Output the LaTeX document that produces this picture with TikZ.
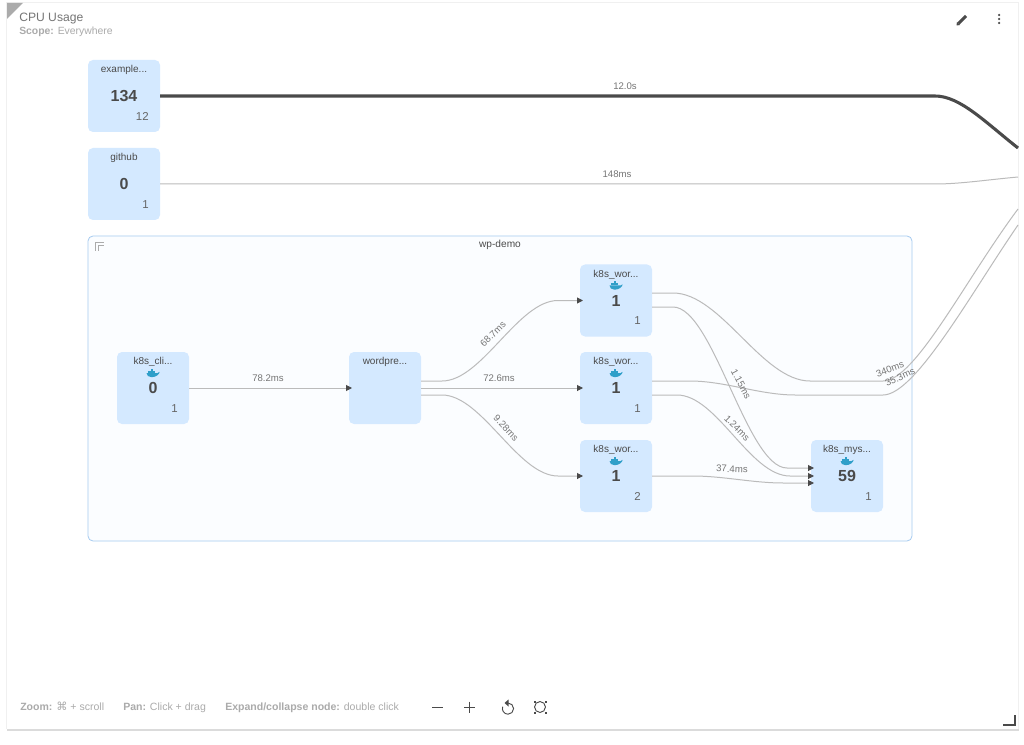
\documentclass[tikz,border=0pt]{standalone}
\usepackage{fontspec}
\setmainfont{Liberation Sans}
\newfontfamily\symfont{DejaVu Sans}
\usetikzlibrary{arrows.meta,calc}
\definecolor{boxblue}{HTML}{D4E9FF}
\definecolor{groupline}{HTML}{A6CBF0}
\definecolor{groupfill}{HTML}{FBFDFF}
\definecolor{edgegray}{HTML}{BBBBBB}
\definecolor{darkedge}{HTML}{4A4A4A}
\definecolor{labelgray}{HTML}{757575}
\definecolor{inktext}{HTML}{4A4A4A}
\definecolor{softgray}{HTML}{ABABAB}
\definecolor{whaleblue}{HTML}{2F9FC9}
\tikzset{
  x=0.75pt,y=-0.75pt,
  hostbox/.style={fill=boxblue,draw=none,rounded corners=3.75pt,minimum width=54pt,minimum height=54pt,outer sep=0pt,inner sep=0pt},
  nametext/.style={font=\fontsize{7.5}{9}\selectfont,text=inktext,inner sep=0pt},
  numtext/.style={font=\fontsize{12}{14}\selectfont\bfseries,text=inktext,inner sep=0pt},
  counttext/.style={font=\fontsize{8.6}{10}\selectfont,text=inktext!85,inner sep=0pt,anchor=east},
  edgelabel/.style={font=\fontsize{7.2}{9}\selectfont,text=labelgray,inner sep=0pt},
  flow/.style={draw=edgegray,line width=0.75pt},
  flowto/.style={flow,-{Triangle[length=4.5pt,width=4.5pt,color=darkedge]}},
  helptext/.style={font=\fontsize{7.9}{10}\selectfont,text=softgray,inner sep=0pt,anchor=base west},
  toolicon/.style={draw=inktext,line width=0.7pt},
  whale/.pic={
    \fill[whaleblue] (-6.5,0) -- (4.6,0) .. controls (5.2,-0.6) and (5.8,-1.2) .. (6.6,-1.2)
      .. controls (6.4,1.2) and (3.5,4.2) .. (-1.5,4.2) .. controls (-4.5,4.2) and (-6.2,2.5) .. (-6.5,0) -- cycle;
    \fill[whaleblue] (-4.6,-2.1) rectangle (1.8,-0.4);
    \fill[whaleblue] (-2.1,-4.2) rectangle (0.2,-2.5);
  }
}
\newcommand{\hostnode}[6]{% id, x, y, name, number, count
  \node[hostbox] (#1) at (#2,#3) {};
  \node[nametext] (#1-name) at ($(#1.center)+(0,-26)$) {#4};
  \node[numtext] (#1-num) at (#1.center) {#5};
  \node[counttext] (#1-count) at ($(#1.center)+(25,20.5)$) {#6};
}
\begin{document}
\begin{tikzpicture}
\useasboundingbox (0,0) rectangle (1024,745);
\fill[white] (0,0) rectangle (1024,745);
% panel
\fill[black!14] (7,4) rectangle (1019,730.5);
\fill[black!6] (6,2) rectangle (1019,729);
\fill[white] (7,3) rectangle (1018,729);
\fill[softgray] (7,3) -- (23,3) -- (7,19) -- cycle;
\node[font=\fontsize{9.1}{11}\selectfont,text=labelgray,inner sep=0pt,anchor=west] (title) at (19,18.5) {CPU Usage};
\node[font=\fontsize{7.8}{10}\selectfont,text=softgray,inner sep=0pt,anchor=west] (scope) at (19,32) {\textbf{Scope:} Everywhere};
% top right icons
\draw[inktext,line width=2.3pt] (958.5,23.5) -- (966,16);
\fill[inktext] (956.5,25.5) -- (957,21.8) -- (960.2,25) -- cycle;
\foreach \yy in {15,19,23} \fill[inktext] (999,\yy) circle (1.25);
% group
\node[draw=groupline,fill=groupfill,line width=0.6pt,rounded corners=3.75pt,minimum width=618pt,minimum height=228.75pt,outer sep=0pt,inner sep=0pt] (group) at (500,388.5) {};
\node[edgelabel,text=inktext,font=\fontsize{7.6}{9}\selectfont] (grouptitle) at (500,245) {wp-demo};
\draw[softgray,line width=0.5pt] (95,251) -- (95,242) -- (104,242);
\draw[softgray,line width=0.5pt] (98,251) -- (98,245) -- (104,245);
% host nodes
\hostnode{ex}{124}{96}{example...}{134}{12}
\hostnode{gh}{124}{184}{github}{0}{1}
\hostnode{cli}{153}{388}{k8s\_cli...}{0}{1}
\node[hostbox] (wp) at (385,388) {};
\node[nametext] (wp-name) at ($(wp.center)+(0,-26)$) {wordpre...};
\hostnode{wa}{616}{300.5}{k8s\_wor...}{1}{1}
\hostnode{wb}{616}{388}{k8s\_wor...}{1}{1}
\hostnode{wc}{616}{476}{k8s\_wor...}{1}{2}
\hostnode{my}{847}{476}{k8s\_mys...}{59}{1}
\foreach \nn in {cli,wa,wb,wc,my} \pic at ($(\nn.center)+(0,-15)$) {whale};
% free ends at the panel edge
\coordinate (offa) at (1018,148);
\coordinate (offb) at (1018,177);
\coordinate (offc) at (1018,209);
\coordinate (offd) at (1018,225);
% connectors
\draw[draw=darkedge,line width=2.3pt] (ex.east) -- (935,96) .. controls (960,96) and (985,122) .. (offa);
\draw[flow] (gh.east) -- (935,184) .. controls (960,184) and (985,180) .. (offb);
\draw[flowto] (cli.east) -- ($(wp.west)+(3,0)$);
\draw[flowto] ($(wp.east)+(0,-7)$) -- (442,381) .. controls (482,381) and (518,300.5) .. (558,300.5) -- ($(wa.west)+(3,0)$);
\draw[flowto] (wp.east) -- ($(wb.west)+(3,0)$);
\draw[flowto] ($(wp.east)+(0,7)$) -- (442,395) .. controls (482,395) and (518,476) .. (558,476) -- ($(wc.west)+(3,0)$);
\draw[flow] ($(wa.east)+(0,-7.5)$) -- (673,293) .. controls (721,293) and (762,381) .. (810,381) -- (883,381) .. controls (915,381) and (965,280) .. (offc);
\draw[flowto] ($(wa.east)+(0,6.5)$) -- (673,307) .. controls (713,307) and (747,468) .. (787,468) -- ($(my.west)+(3,-8)$);
\draw[flow] ($(wb.east)+(0,-7)$) -- (690,381) .. controls (725,381) and (760,395) .. (795,395) -- (883,395) .. controls (915,395) and (970,295) .. (offd);
\draw[flowto] ($(wb.east)+(0,7)$) -- (677,395) .. controls (717,395) and (750,476) .. (790,476) -- ($(my.west)+(3,0)$);
\draw[flowto] (wc.east) -- (693,476) .. controls (723,476) and (753,483) .. (783,483) -- ($(my.west)+(3,7)$);
% edge labels
\node[edgelabel] (l1) at (625,86) {12.0s};
\node[edgelabel] (l2) at (617,174) {148ms};
\node[edgelabel] (l3) at (268,378) {78.2ms};
\node[edgelabel,rotate=45] (l4) at (493,334) {68.7ms};
\node[edgelabel] (l5) at (499,378) {72.6ms};
\node[edgelabel,rotate=-47] (l6) at (506,428) {9.28ms};
\node[edgelabel,rotate=-62] (l7) at (741,384) {1.15ms};
\node[edgelabel,rotate=-45] (l8) at (737,428) {1.24ms};
\node[edgelabel,rotate=-2] (l9) at (732,469) {37.4ms};
\node[edgelabel,rotate=20] (l10) at (890,369) {340ms};
\node[edgelabel,rotate=25] (l11) at (900,377) {35.3ms};
% help bar
\node[helptext] (h1) at (20,710.5) {\textbf{Zoom:} {\symfont\fontsize{8.4}{9}\selectfont ⌘} + scroll};
\node[helptext] (h2) at (123,710.5) {\textbf{Pan:} Click + drag};
\node[helptext] (h3) at (225,710.5) {\textbf{Expand/collapse node:} double click};
\draw[toolicon] (432,707) -- (443,707);
\draw[toolicon] (464,707) -- (474.5,707);
\draw[toolicon] (469.2,701.5) -- (469.2,712.5);
\draw[toolicon] (508,703) arc[start angle=90,end angle=-200,radius=4.2pt];
\fill[inktext] (504.5,703) -- (508.5,699.5) -- (508.5,706.5) -- cycle;
\draw[inktext,line width=0.7pt] (540,707) circle (4.1pt);
\foreach \sx/\sy in {-5.5/-5.5,5.5/-5.5,-5.5/5.5,5.5/5.5} \fill[inktext] ($(540,707)+(\sx,\sy)+(-1,-1)$) rectangle ($(540,707)+(\sx,\sy)+(1,1)$);
% resize corner
\draw[inktext,line width=1.6pt] (1003,725) -- (1015,725) -- (1015,715);
\end{tikzpicture}
\end{document}
